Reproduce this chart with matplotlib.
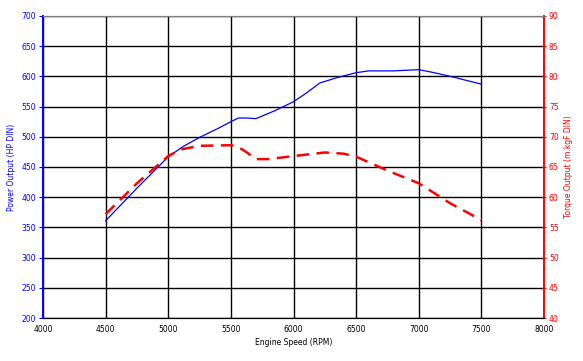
import matplotlib.pyplot as plt

# Engine speed (RPM) sample points
rpm = [4500, 4750, 5000, 5120, 5250, 5400, 5500, 5560, 5620, 5700, 5850,
       6000, 6100, 6210, 6350, 6500, 6600, 6800, 7000, 7100, 7250, 7500]
# Power output (HP DIN)
power = [361, 415, 467, 484, 499, 514, 525, 531, 531, 530, 543,
         558, 572, 589, 598, 606, 609, 609, 611, 607, 600, 587]

torque_rpm = [4500, 4750, 5000, 5100, 5250, 5500, 5550, 5620, 5700, 5800, 6000,
              6250, 6400, 6500, 6750, 7000, 7250, 7500]
# Torque output (m.kgF DIN)
torque = [57.2, 62.3, 66.8, 67.9, 68.5, 68.6, 68.4, 67.5, 66.3, 66.3, 66.8,
          67.4, 67.2, 66.7, 64.4, 62.3, 59.0, 56.2]

xticks = list(range(4000, 8001, 500))
fs = 5.5

fig = plt.figure(figsize=(5.83, 3.61), dpi=100)
ax = fig.add_axes([0.0738, 0.119, 0.8594, 0.837])
ax2 = ax.twinx()

ax.set_xlim(4000, 8000)
ax.set_ylim(200, 700)
ax2.set_ylim(40, 90)
ax.set_xticks(xticks)
ax.set_yticks(range(200, 701, 50))
ax2.set_yticks(range(40, 91, 5))

ax.grid(True, color='black', linewidth=1)
ax.set_axisbelow(True)

ax.plot(rpm, power, color='blue', linewidth=0.9)
ax2.plot(torque_rpm, torque, color='red', linewidth=1.8, dashes=(5, 3))

for a in (ax, ax2):
    a.spines['top'].set_color('grey')
    a.spines['left'].set_color('blue')
    a.spines['right'].set_color('red')
    a.spines['bottom'].set_color('black')
    a.spines['left'].set_linewidth(1.2)
    a.spines['right'].set_linewidth(1.2)

ax.tick_params(axis='y', colors='blue', labelsize=fs, length=3, width=0.8, pad=2)
ax.tick_params(axis='x', colors='black', labelsize=fs, length=0, pad=5)
ax2.tick_params(axis='y', colors='red', labelsize=fs, length=3, width=0.8, direction='inout', pad=2)

ax.set_xlabel('Engine Speed (RPM)', fontsize=fs, labelpad=3)
ax.set_ylabel('Power Output (HP DIN)', fontsize=fs, color='blue', labelpad=4)
ax2.set_ylabel('Torque Output (m.kgF DIN)', fontsize=fs, color='red', labelpad=4)

fig.savefig('out.png', dpi=100)
